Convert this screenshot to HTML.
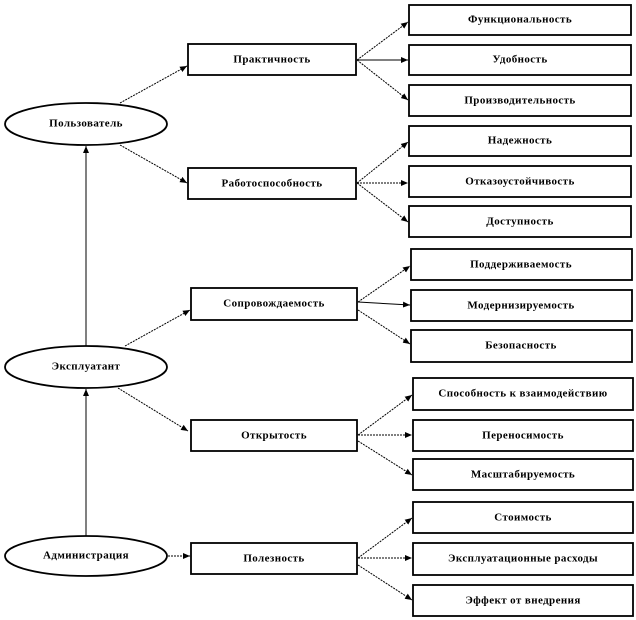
<!DOCTYPE html>
<html><head><meta charset="utf-8"><style>
html,body{margin:0;padding:0;background:#fff}
svg{display:block}
text{font-family:"Liberation Serif",serif;font-weight:bold;font-size:11px;letter-spacing:0.4px;text-anchor:middle;dominant-baseline:middle;fill:#000}
</style></head><body>
<svg width="636" height="620" viewBox="0 0 636 620" xmlns="http://www.w3.org/2000/svg">
<defs><marker id="a" markerWidth="8" markerHeight="8" refX="7" refY="4" orient="auto" markerUnits="userSpaceOnUse"><path d="M0,1 L7,4 L0,7z" fill="#000"/></marker></defs>
<g fill="#fff" stroke="#000" stroke-width="1.8">
<ellipse cx="86" cy="124" rx="81" ry="21"/>
<ellipse cx="86" cy="367" rx="81" ry="21"/>
<ellipse cx="86" cy="556" rx="81" ry="20"/>
<rect x="188" y="44" width="168" height="31"/>
<rect x="188" y="168" width="168" height="31"/>
<rect x="191" y="288" width="166" height="32"/>
<rect x="191" y="420" width="166" height="31"/>
<rect x="191" y="543" width="166" height="31"/>
<rect x="409" y="5" width="222" height="30"/>
<rect x="409" y="45" width="222" height="30"/>
<rect x="409" y="85" width="222" height="31"/>
<rect x="409" y="126" width="222" height="30"/>
<rect x="409" y="166" width="222" height="31"/>
<rect x="409" y="206" width="222" height="31"/>
<rect x="411" y="249" width="221" height="31"/>
<rect x="411" y="290" width="221" height="31"/>
<rect x="411" y="330" width="221" height="32"/>
<rect x="413" y="378" width="220" height="32"/>
<rect x="413" y="420" width="220" height="31"/>
<rect x="413" y="459" width="220" height="31"/>
<rect x="413" y="502" width="220" height="31"/>
<rect x="413" y="543" width="220" height="32"/>
<rect x="413" y="585" width="220" height="31"/>
</g>
<g stroke="#000" stroke-width="1" stroke-dasharray="2,1" fill="none" marker-end="url(#a)">
<line x1="86" y1="346" x2="86" y2="146" stroke-dasharray="none"/>
<line x1="86" y1="536" x2="86" y2="389" stroke-dasharray="none"/>
<line x1="120" y1="103" x2="187" y2="66"/>
<line x1="120" y1="145" x2="187" y2="183"/>
<line x1="125" y1="346" x2="190" y2="310"/>
<line x1="118" y1="388" x2="188" y2="431"/>
<line x1="168" y1="556" x2="190" y2="556"/>
<line x1="357" y1="60" x2="408" y2="22"/>
<line x1="357" y1="60" x2="408" y2="60" stroke-dasharray="none"/>
<line x1="357" y1="60" x2="408" y2="100"/>
<line x1="357" y1="183" x2="408" y2="142"/>
<line x1="357" y1="183" x2="408" y2="183"/>
<line x1="357" y1="183" x2="408" y2="222"/>
<line x1="358" y1="302" x2="410" y2="266"/>
<line x1="358" y1="302" x2="410" y2="305" stroke-dasharray="none"/>
<line x1="358" y1="310" x2="410" y2="344"/>
<line x1="358" y1="435" x2="412" y2="395"/>
<line x1="358" y1="435" x2="412" y2="435"/>
<line x1="358" y1="441" x2="412" y2="475"/>
<line x1="358" y1="558" x2="412" y2="518"/>
<line x1="358" y1="558" x2="412" y2="558"/>
<line x1="358" y1="565" x2="412" y2="600"/>
</g>
<text x="86" y="124">Пользователь</text>
<text x="86" y="367">Эксплуатант</text>
<text x="86" y="556">Администрация</text>
<text x="272" y="60">Практичность</text>
<text x="272" y="184">Работоспособность</text>
<text x="274" y="304">Сопровождаемость</text>
<text x="274" y="436">Открытость</text>
<text x="274" y="559">Полезность</text>
<text x="520" y="20">Функциональность</text>
<text x="520" y="60">Удобность</text>
<text x="520" y="101">Производительность</text>
<text x="520" y="141">Надежность</text>
<text x="520" y="182">Отказоустойчивость</text>
<text x="520" y="222">Доступность</text>
<text x="521" y="265">Поддерживаемость</text>
<text x="521" y="306">Модернизируемость</text>
<text x="521" y="346">Безопасность</text>
<text x="523" y="394">Способность  к взаимодействию</text>
<text x="523" y="436">Переносимость</text>
<text x="523" y="475">Масштабируемость</text>
<text x="523" y="518">Стоимость</text>
<text x="523" y="559">Эксплуатационные  расходы</text>
<text x="523" y="601">Эффект от внедрения</text>
</svg>
</body></html>
